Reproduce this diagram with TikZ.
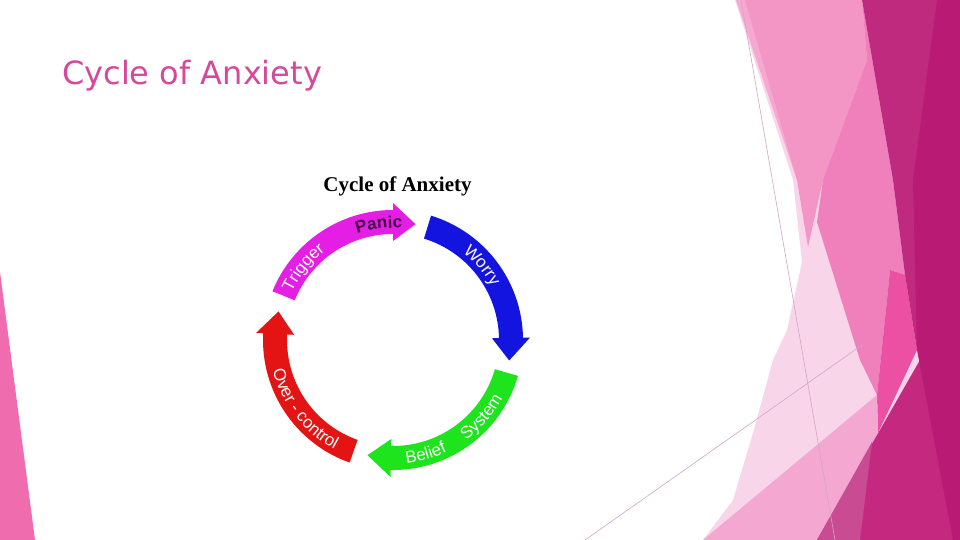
\documentclass[tikz,border=0pt]{standalone}
\usepackage{fontspec}
\usepackage{tikz}
\usetikzlibrary{decorations.text}

\newfontfamily\slidefont{DejaVu Sans}
\newfontfamily\chartfont{Liberation Serif}
\newfontfamily\arcfont{Liberation Sans}
\newcommand\cyclabel{\arcfont\fontsize{17}{17}\selectfont}

% Facet colours of the slide
\definecolor{facetpale}{RGB}{249,213,233}
\definecolor{facetstrip}{RGB}{245,168,208}
\definecolor{facetlight}{RGB}{243,150,198}
\definecolor{facetmid}{RGB}{239,128,188}
\definecolor{facethot}{RGB}{235,80,162}
\definecolor{facetlow}{RGB}{244,167,209}
\definecolor{facetmagA}{RGB}{192,42,126}
\definecolor{facetmagB}{RGB}{185,26,115}
\definecolor{facetmagC}{RGB}{196,40,127}
\definecolor{facetmauve}{RGB}{201,75,145}
\definecolor{facetedge}{RGB}{239,109,174}
\definecolor{facetline}{RGB}{208,166,198}
\definecolor{titlepink}{RGB}{214,72,156}
% Cycle colours
\definecolor{cyctrigger}{RGB}{228,30,228}
\definecolor{cycworry}{RGB}{20,20,225}
\definecolor{cycbelief}{RGB}{30,228,30}
\definecolor{cyccontrol}{RGB}{228,20,20}
\definecolor{panicdark}{RGB}{70,10,70}

\begin{document}
\begin{tikzpicture}[x=1pt, y=1pt,
    facetline/.style={draw=facetline, line width=0.6pt},
    arclabel/.style={decorate, decoration={text along path, text align=center, text color=white}}]
    \useasboundingbox (0,0) rectangle (960,540);
    \fill[white] (0,0) rectangle (960,540);

    % Facet shapes on the right
    \fill[facetpale] (735,540) -- (960,540) -- (960,0) -- (703,0) -- (733,40) -- (753,107) -- (773,180) -- (787,210) -- (802,278) -- (793,360) -- cycle;
    \fill[facetstrip] (736,540) -- (757,540) -- (800,360) -- (797,360) -- cycle;
    \fill[facetlight] (745,540) -- (862,540) -- (867,480) -- (823,360) -- (808,293) -- (797,360) -- cycle;
    \fill[facetmid] (862,540) -- (893,360) -- (905,265) -- (890,270) -- (887,240) -- (877,145) -- (860,180) -- (817,318) -- (823,360) -- (867,480) -- cycle;
    \fill[facethot] (890,270) -- (905,265) -- (917,190) -- (878,107) -- (877,145) -- (887,240) -- cycle;
    \fill[facetlow] (703,0) -- (877,145) -- (878,107) -- (860,0) -- cycle;
    \fill[facetmagC] (960,250) -- (817,0) -- (960,0) -- cycle;
    \fill[facetmauve] (872,98) -- (817,0) -- (860,0) -- cycle;
    \fill[facetmagA] (862,540) -- (960,540) -- (960,250) -- (917,190) -- (905,265) -- (893,360) -- cycle;
    \fill[facetmagB] (937,540) -- (960,540) -- (960,0) -- (953,0) -- (917,190) -- (913,360) -- cycle;
    \draw[facetline] (741,540) -- (835,0);
    \draw[facetline] (585,0) -- (862,195);

    % Facet shape on the left edge
    \fill[facetedge] (0,268) -- (35,0) -- (0,0) -- cycle;

    \node[anchor=base west, inner sep=0pt, text=titlepink, font=\slidefont\fontsize{32}{32}\selectfont] (slidetitle) at (62,455) {Cycle of Anxiety};
    \node[anchor=base, inner sep=0pt, font=\chartfont\bfseries\fontsize{21}{21}\selectfont] (charttitle) at (397.5,348) {Cycle of Anxiety};

    \coordinate (hub) at (393,200);
    \begin{scope}[shift={(hub)}]
        % tail / head base / tip angles of the four arrows
        \foreach \tail/\base/\tip/\col in {158/90/79/cyctrigger, 73/1/-10/cycworry, -16/-91/-102.5/cycbelief, -109.5/-183/-194/cyccontrol} {
            \fill[\col] (\tail:130) arc[start angle=\tail, end angle=\base, radius=130] -- (\base:137) -- (\tip:118) -- (\base:99) -- (\base:106) arc[start angle=\base, end angle=\tail, radius=106] -- cycle;
        }

        \path[arclabel, decoration={text={|\cyclabel|Trigger}}] (171:112) arc[start angle=171, end angle=111, radius=112];
        \path[arclabel, decoration={text color=panicdark, text={|\cyclabel\bfseries|Panic}}] (127:112) arc[start angle=127, end angle=67, radius=112];
        \path[arclabel, decoration={text={|\cyclabel|Worry}}] (70:112) arc[start angle=70, end angle=10, radius=112];
        \path[arclabel, decoration={text={|\cyclabel|System}}] (-71:124) arc[start angle=-71, end angle=-11, radius=124];
        \path[arclabel, decoration={text={|\cyclabel|Belief}}] (-104:124) arc[start angle=-104, end angle=-44, radius=124];
        \path[arclabel, decoration={text={|\cyclabel|Over - control}}] (-187:124) arc[start angle=-187, end angle=-97, radius=124];
    \end{scope}
\end{tikzpicture}
\end{document}
